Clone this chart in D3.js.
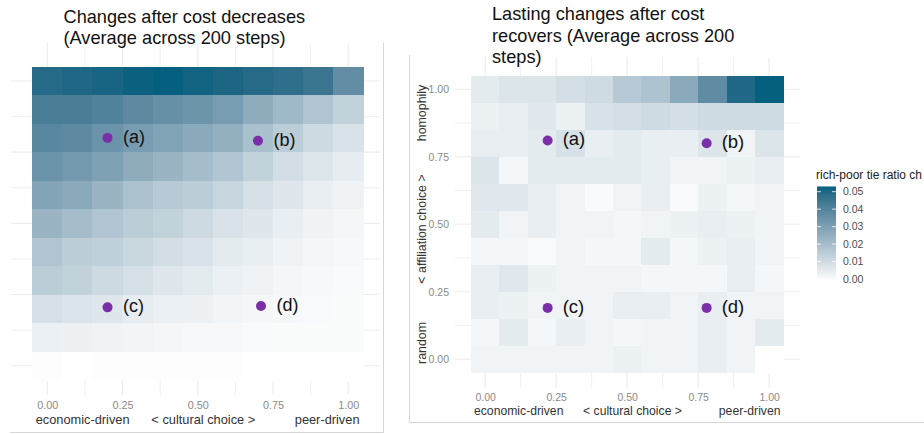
<!DOCTYPE html>
<html><head><meta charset="utf-8">
<script src="https://cdn.jsdelivr.net/npm/d3@7/dist/d3.min.js"></script>
<style>
body{margin:0;background:#fff;}
svg{display:block;font-family:"Liberation Sans",Arial,Helvetica,sans-serif;}
</style>
</head><body>
<svg id="c" width="924" height="434"></svg>
<script>
// ---------- data ----------
const xLevels = [0,0.1,0.2,0.3,0.4,0.5,0.6,0.7,0.8,0.9,1.0];
const yLevels = [1.0,0.9,0.8,0.7,0.6,0.5,0.4,0.3,0.2,0.1,0.0]; // rows top -> bottom
const majorTicks = [0,0.25,0.5,0.75,1];
const minorTicks = [0.125,0.375,0.625,0.875];
const leftTitle = ["Changes after cost decreases","(Average across 200 steps)"];
const rightTitle = ["Lasting changes after cost","recovers (Average across 200","steps)"];
const xAxisWords = ["economic-driven","< cultural choice >","peer-driven"];
const yAxisWords = ["homophily","< affiliation choice >","random"];
const legendTitle = "rich-poor tie ratio ch";
const legendTicks = [0,0.01,0.02,0.03,0.04,0.05];

// left heatmap (relative change, rows y=1.0 .. y=0.0)
const leftFill = [
  [0.93,0.95,0.97,0.99,1.00,0.98,0.96,0.93,0.90,0.86,0.70],
  [0.80,0.80,0.77,0.72,0.68,0.65,0.60,0.50,0.42,0.35,0.27],
  [0.74,0.72,0.66,0.60,0.56,0.52,0.48,0.38,0.30,0.22,0.17],
  [0.66,0.62,0.57,0.50,0.45,0.40,0.35,0.27,0.20,0.15,0.11],
  [0.55,0.52,0.45,0.37,0.32,0.30,0.25,0.18,0.14,0.10,0.07],
  [0.45,0.40,0.35,0.30,0.27,0.22,0.17,0.14,0.10,0.07,0.05],
  [0.35,0.30,0.28,0.24,0.20,0.17,0.12,0.10,0.07,0.05,0.04],
  [0.30,0.27,0.22,0.19,0.14,0.12,0.09,0.07,0.05,0.04,0.03],
  [0.19,0.16,0.14,0.11,0.09,0.08,0.06,0.05,0.04,0.03,0.02],
  [0.09,0.08,0.07,0.06,0.05,0.04,0.04,0.03,0.02,0.02,0.02],
  [0.01,0.00,0.01,0.01,0.01,0.01,0.01,0.00,0.00,0.00,0.00]
];
// right heatmap (rich-poor tie ratio change, rows y=1.0 .. y=0.0)
const rightFill = [
  [0.005,0.007,0.007,0.009,0.010,0.016,0.018,0.027,0.037,0.050,0.053],
  [0.003,0.004,0.006,0.003,0.008,0.009,0.010,0.009,0.010,0.010,0.010],
  [0.004,0.004,0.005,0.008,0.004,0.005,0.004,0.004,0.007,0.002,0.007],
  [0.007,0.001,0.005,0.005,0.005,0.005,0.004,0.002,0.002,0.003,0.004],
  [0.006,0.006,0.004,0.002,0.000,0.002,0.004,0.000,0.003,0.001,0.002],
  [0.005,0.002,0.004,0.002,0.002,0.001,0.002,0.003,0.004,0.003,0.002],
  [0.001,0.001,0.000,0.002,0.001,0.001,0.005,0.001,0.003,0.004,0.002],
  [0.004,0.006,0.003,0.002,0.002,0.002,0.001,0.001,0.001,0.004,0.001],
  [0.004,0.003,0.002,0.002,0.002,0.004,0.004,0.002,0.004,0.002,0.002],
  [0.001,0.005,0.001,0.004,0.002,0.001,0.002,0.002,0.004,0.002,0.005],
  [0.002,0.002,0.002,0.002,0.002,0.003,0.002,0.002,0.004,0.002,-0.0015]
];
const pointLabels = ["(a)","(b)","(c)","(d)"];
const leftPointX = [0.20,0.70,0.20,0.71];
const leftPointY = [0.80,0.79,0.205,0.21];
const rightPointX = [0.22,0.78,0.22,0.78];
const rightPointY = [0.81,0.80,0.19,0.19];

// ---------- drawing ----------
const svg = d3.select("#c");
const LOW = "#ffffff", HIGH = "#05607f";
const GRID = "#ececec";

function makeColor(values){
  const flat = values.flat();
  return d3.scaleLinear().domain([d3.min(flat), d3.max(flat)]).range([LOW, HIGH]).interpolate(d3.interpolateLab);
}

function drawPanel(cfg){
  const g = svg.append("g");
  const xs = d3.scaleLinear().domain([-0.05,1.05]).range(cfg.xRange);
  const ys = d3.scaleLinear().domain([-0.05,1.05]).range(cfg.yRange);
  const color = makeColor(cfg.fill);
  const p = cfg.panel;

  // grid
  const gridVals = majorTicks.concat(minorTicks);
  g.append("g").selectAll("line.v").data(gridVals).join("line")
    .attr("x1", d=>xs(d)).attr("x2", d=>xs(d)).attr("y1", p.top).attr("y2", p.bottom)
    .attr("stroke", GRID).attr("stroke-width", d=>majorTicks.includes(d)?1.1:0.8);
  g.append("g").selectAll("line.h").data(gridVals).join("line")
    .attr("y1", d=>ys(d)).attr("y2", d=>ys(d)).attr("x1", p.left).attr("x2", p.right)
    .attr("stroke", GRID).attr("stroke-width", d=>majorTicks.includes(d)?1.1:0.8);

  // tiles
  const cells = [];
  cfg.fill.forEach((row,r)=>row.forEach((v,c)=>cells.push({x:xLevels[c], y:yLevels[r], v})));
  g.append("g").attr("shape-rendering","crispEdges").selectAll("rect").data(cells).join("rect")
    .attr("x", d=>xs(d.x-0.05))
    .attr("y", d=>ys(d.y+0.05))
    .attr("width", d=>xs(d.x+0.05)-xs(d.x-0.05)+0.5)
    .attr("height", d=>ys(d.y-0.05)-ys(d.y+0.05)+0.5)
    .attr("fill", d=>color(d.v));

  // points + labels
  const pts = pointLabels.map((l,i)=>({l, x:cfg.px[i], y:cfg.py[i]}));
  g.append("g").selectAll("circle").data(pts).join("circle")
    .attr("cx", d=>xs(d.x)).attr("cy", d=>ys(d.y)).attr("r", 5).attr("fill", "#7a2ea8");
  g.append("g").selectAll("text").data(pts).join("text")
    .attr("x", d=>xs(d.x)+cfg.labelDx).attr("y", d=>ys(d.y)+4.8)
    .attr("font-size", cfg.labelSize).attr("fill", "#111").text(d=>d.l);

  // x axis tick labels
  const xa = g.append("g").attr("transform", `translate(0,${cfg.xTickY})`)
    .call(d3.axisBottom(xs).tickValues(majorTicks).tickFormat(d3.format(".2f")).tickSize(0).tickPadding(0));
  xa.select(".domain").remove();
  xa.selectAll("text").attr("font-size", cfg.tickSize).attr("fill", "#8a8a8a").attr("font-family", null);

  // x axis title words
  const tx = g.append("g").attr("font-size", cfg.titleSize).attr("fill", "#333");
  tx.append("text").attr("x", cfg.xWords[0]).attr("y", cfg.xTitleY).attr("text-anchor","start").text(xAxisWords[0]);
  tx.append("text").attr("x", cfg.xWords[1]).attr("y", cfg.xTitleY).attr("text-anchor","middle").text(xAxisWords[1]);
  tx.append("text").attr("x", cfg.xWords[2]).attr("y", cfg.xTitleY).attr("text-anchor","end").text(xAxisWords[2]);

  // title
  const tt = g.append("g").attr("font-size", 18.2).attr("fill", "#111");
  cfg.title.forEach((t,i)=>tt.append("text").attr("x", cfg.titleX).attr("y", cfg.titleY + i*cfg.titleLH).text(t));

  return {xs, ys, color, g};
}

// left panel
drawPanel({
  xRange:[32.3,363.3], yRange:[380,66.7],
  panel:{left:11, right:380, top:43, bottom:395},
  fill:leftFill, px:leftPointX, py:leftPointY,
  labelDx:15.5, labelSize:18,
  xTickY:401.3, tickSize:10.8,
  titleSize:12.8, xTitleY:424, xWords:[35.7,203.3,359.5],
  title:leftTitle, titleX:63.5, titleY:23.3, titleLH:20.5
});

// right panel
const R = drawPanel({
  xRange:[471,783.3], yRange:[372.7,75.7],
  panel:{left:455, right:800, top:57, bottom:388},
  fill:rightFill, px:rightPointX, py:rightPointY,
  labelDx:15, labelSize:18.5,
  xTickY:393.3, tickSize:10.5,
  titleSize:12.2, xTitleY:415.3, xWords:[474,632.5,780.5],
  title:rightTitle, titleX:492, titleY:20, titleLH:21.5
});

// right y axis
const ya = R.g.append("g").attr("transform","translate(452,0)")
  .call(d3.axisLeft(R.ys).tickValues(majorTicks).tickFormat(d3.format(".2f")).tickSize(0).tickPadding(3));
ya.select(".domain").remove();
ya.selectAll("text").attr("font-size", 10.5).attr("fill", "#8a8a8a").attr("font-family", null);

const yWordY = [113, 229, 343];
yAxisWords.forEach((w,i)=>{
  R.g.append("text").attr("transform", `translate(425.5,${yWordY[i]}) rotate(-90)`)
    .attr("text-anchor","middle").attr("font-size", 12.4).attr("fill", "#333").text(w);
});

// legend
const lg = svg.append("g");
const ls = d3.scaleLinear().domain([0,0.05]).range([279,191.7]);
const rMin = d3.min(rightFill.flat()), rMax = d3.max(rightFill.flat());
const grad = svg.append("defs").append("linearGradient").attr("id","lgrad")
  .attr("x1",0).attr("x2",0).attr("y1",1).attr("y2",0);
d3.range(0,1.0001,0.1).forEach(t=>{
  grad.append("stop").attr("offset", t).attr("stop-color", R.color(rMin + t*(rMax-rMin)));
});
lg.append("rect").attr("x",817).attr("y", ls(rMax)).attr("width",19).attr("height", ls(rMin)-ls(rMax)).attr("fill","url(#lgrad)");
lg.selectAll("line.tl").data(legendTicks).join("line")
  .attr("x1",817).attr("x2",821).attr("y1",d=>ls(d)).attr("y2",d=>ls(d)).attr("stroke","#fff").attr("stroke-width",0.8);
lg.selectAll("line.tr").data(legendTicks).join("line")
  .attr("x1",832).attr("x2",836).attr("y1",d=>ls(d)).attr("y2",d=>ls(d)).attr("stroke","#fff").attr("stroke-width",0.8);
lg.selectAll("text.lab").data(legendTicks).join("text")
  .attr("x",843).attr("y",d=>ls(d)+3.7).attr("font-size",10.5).attr("fill","#4d4d4d")
  .text(d3.format(".2f"));
lg.append("text").attr("x",816).attr("y",179).attr("font-size",12).attr("fill","#222").text(legendTitle);

// panel frames (screenshot borders)
const fr = svg.append("g").attr("stroke","#d6d6d6").attr("stroke-width",1).attr("fill","none");
fr.append("path").attr("d","M10,432.5 H383.5 V43");
fr.append("path").attr("d","M409.5,55 V422.5 H924");
</script>
</body></html>
